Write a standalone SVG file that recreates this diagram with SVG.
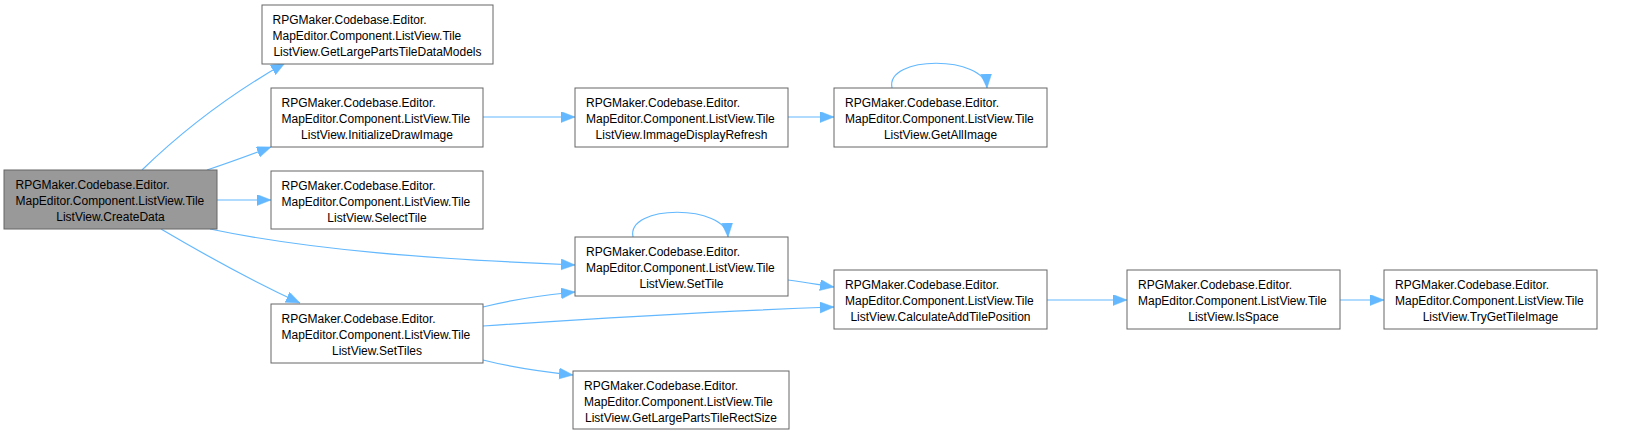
<svg xmlns="http://www.w3.org/2000/svg" width="1639" height="435" viewBox="0 0 1639 435">
<style>
.node rect{fill:#ffffff;stroke:#666666;stroke-width:1}
.node.sel rect{fill:#999999}
.node text{font-family:"Liberation Sans",Arial,sans-serif;font-size:12px;fill:#000000}
.node text.c{text-anchor:middle}
.edge{fill:none;stroke:#63b8ff;stroke-width:1.2;marker-end:url(#arr)}
</style>
<defs>
<marker id="arr" markerUnits="userSpaceOnUse" markerWidth="15" markerHeight="12" refX="14" refY="5.5" orient="auto">
<path d="M0,0 L14,5.5 L0,11 z" fill="#63b8ff" stroke="#63b8ff" stroke-width="0.5"/>
</marker>
</defs>
<rect width="1639" height="435" fill="#ffffff"/>
<g id="connectors">
<path class="edge" d="M142,170 C175,138 220,100 285,63"/>
<path class="edge" d="M207,170 C228,163 250,155 271,147"/>
<path class="edge" d="M217,200 L271,200"/>
<path class="edge" d="M210,229 C310,250 430,259 575,265"/>
<path class="edge" d="M161,229 C200,252 250,280 300,303"/>
<path class="edge" d="M483,117 L575,117"/>
<path class="edge" d="M788,117 L834,117"/>
<path class="edge" d="M892,88 C885,55 985,55 987,88"/>
<path class="edge" d="M633,237 C626,204 726,204 728,237"/>
<path class="edge" d="M483,307 C510,300 545,295 575,292"/>
<path class="edge" d="M483,326 C600,318 720,311 834,307"/>
<path class="edge" d="M483,360 C510,367 545,372 573,375"/>
<path class="edge" d="M788,280 C805,282 820,285 834,287"/>
<path class="edge" d="M1047,300 L1127,300"/>
<path class="edge" d="M1340,300 L1384,300"/>
</g>
<g id="n0" class="node sel"><rect x="4" y="170" width="213" height="59"/>
<text x="15.5" y="189">RPGMaker.Codebase.Editor.</text>
<text x="15.5" y="205">MapEditor.Component.ListView.Tile</text>
<text class="c" x="110.5" y="221">ListView.CreateData</text></g>
<g id="n1" class="node"><rect x="262" y="5" width="231" height="59"/>
<text x="272.5" y="24">RPGMaker.Codebase.Editor.</text>
<text x="272.5" y="40">MapEditor.Component.ListView.Tile</text>
<text class="c" x="377.5" y="56">ListView.GetLargePartsTileDataModels</text></g>
<g id="n2" class="node"><rect x="271" y="88" width="212" height="59"/>
<text x="281.5" y="107">RPGMaker.Codebase.Editor.</text>
<text x="281.5" y="123">MapEditor.Component.ListView.Tile</text>
<text class="c" x="377" y="139">ListView.InitializeDrawImage</text></g>
<g id="n3" class="node"><rect x="271" y="171" width="212" height="58"/>
<text x="281.5" y="190">RPGMaker.Codebase.Editor.</text>
<text x="281.5" y="206">MapEditor.Component.ListView.Tile</text>
<text class="c" x="377" y="222">ListView.SelectTile</text></g>
<g id="n4" class="node"><rect x="271" y="304" width="212" height="59"/>
<text x="281.5" y="323">RPGMaker.Codebase.Editor.</text>
<text x="281.5" y="339">MapEditor.Component.ListView.Tile</text>
<text class="c" x="377" y="355">ListView.SetTiles</text></g>
<g id="n5" class="node"><rect x="575" y="88" width="213" height="59"/>
<text x="586" y="107">RPGMaker.Codebase.Editor.</text>
<text x="586" y="123">MapEditor.Component.ListView.Tile</text>
<text class="c" x="681.5" y="139">ListView.ImmageDisplayRefresh</text></g>
<g id="n6" class="node"><rect x="834" y="88" width="213" height="59"/>
<text x="845" y="107">RPGMaker.Codebase.Editor.</text>
<text x="845" y="123">MapEditor.Component.ListView.Tile</text>
<text class="c" x="940.5" y="139">ListView.GetAllImage</text></g>
<g id="n7" class="node"><rect x="575" y="237" width="213" height="59"/>
<text x="586" y="256">RPGMaker.Codebase.Editor.</text>
<text x="586" y="272">MapEditor.Component.ListView.Tile</text>
<text class="c" x="681.5" y="288">ListView.SetTile</text></g>
<g id="n8" class="node"><rect x="834" y="270" width="213" height="59"/>
<text x="845" y="289">RPGMaker.Codebase.Editor.</text>
<text x="845" y="305">MapEditor.Component.ListView.Tile</text>
<text class="c" x="940.5" y="321">ListView.CalculateAddTilePosition</text></g>
<g id="n9" class="node"><rect x="573" y="371" width="216" height="58"/>
<text x="584" y="390">RPGMaker.Codebase.Editor.</text>
<text x="584" y="406">MapEditor.Component.ListView.Tile</text>
<text class="c" x="681" y="422">ListView.GetLargePartsTileRectSize</text></g>
<g id="n10" class="node"><rect x="1127" y="270" width="213" height="59"/>
<text x="1138" y="289">RPGMaker.Codebase.Editor.</text>
<text x="1138" y="305">MapEditor.Component.ListView.Tile</text>
<text class="c" x="1233.5" y="321">ListView.IsSpace</text></g>
<g id="n11" class="node"><rect x="1384" y="270" width="213" height="59"/>
<text x="1395" y="289">RPGMaker.Codebase.Editor.</text>
<text x="1395" y="305">MapEditor.Component.ListView.Tile</text>
<text class="c" x="1490.5" y="321">ListView.TryGetTileImage</text></g>
</svg>
